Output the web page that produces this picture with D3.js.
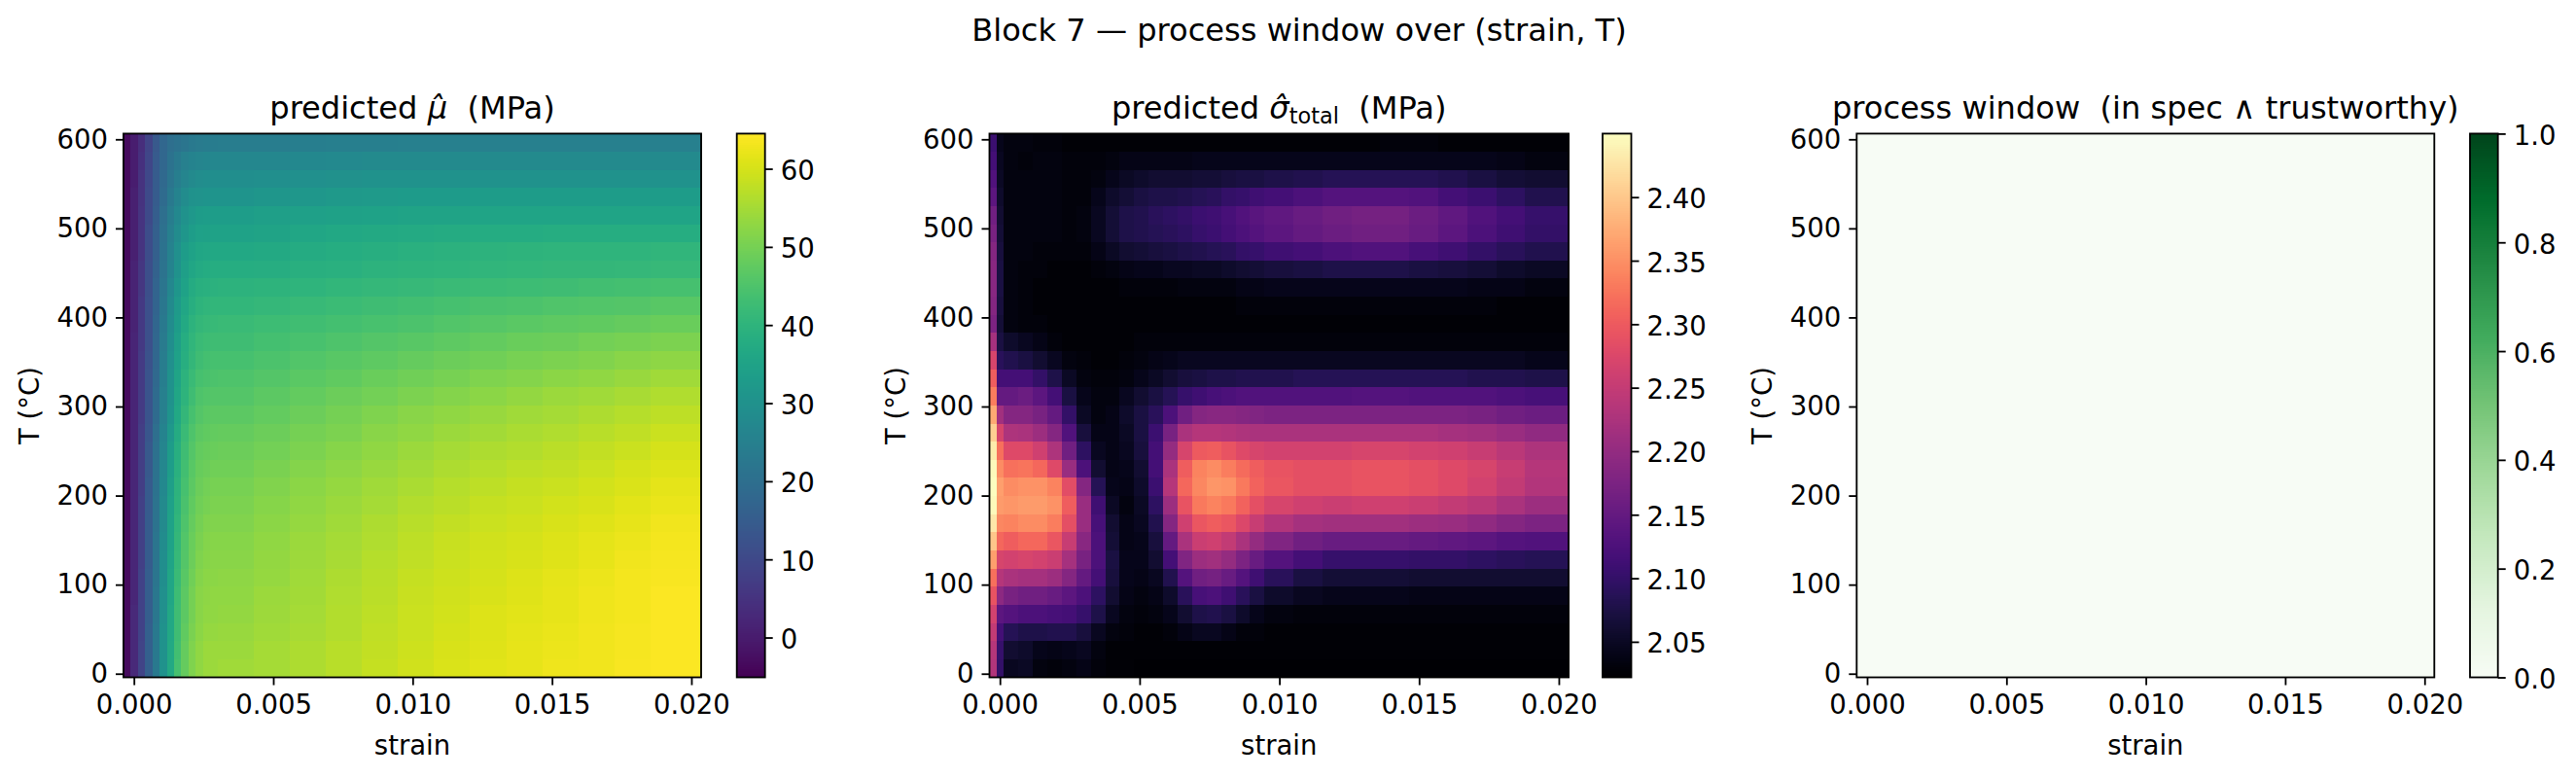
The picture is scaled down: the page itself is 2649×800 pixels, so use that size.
<!DOCTYPE html>
<html>
<head>
<meta charset="utf-8">
<script src="https://cdn.jsdelivr.net/npm/d3@7"></script>
<style>
  body { margin: 0; background: #fff; }
  text { font-family: "DejaVu Sans", sans-serif; fill: #000; }
</style>
</head>
<body>
<div id="chart"></div>
<script>
const width = 2649;
const height = 800;

const xTicks = [0, 0.005, 0.01, 0.015, 0.02];
const yTicks = [0, 100, 200, 300, 400, 500, 600];
const xLimits = [-0.000373, 0.02035];
const yLimits = [-4.1, 606.4];
const gridCols = 80;
const gridRows = 60;

// mean stress in MPa, top row (T=600) first
// 13 single columns on the left, then wider blocks where the field is flat
const muColSpans = [1,1,1,1,1,1,1,1,1,1,1,1,1, 5,5,5,5,5,5,5,5,5,5,5,5,7];
const muRowSpan = 2;
const muRows = [
  [-3,.5,4,9,14,18,20,21,22,23,23.5,23.8,23.9, 24,24.2,24.4,24.6,24.8,24.9,25,25,25,25,25,25,25],
  [-3,.5,4.5,9.5,14.5,18,21,23,25,26,26.7,26.9,27, 27,27.2,27.4,27.6,27.8,27.9,28,28,28,28,28,28,28],
  [-3,.5,5,10,15,18.5,22,24.5,26.5,28,28.7,28.9,29, 29,29.2,29.5,29.8,30,30.2,30.3,30.4,30.4,30.4,30.4,30.4,30.4],
  [-3,1,5,10.5,15,19,23,26,28.5,30,30.7,30.9,31, 31,31.4,31.8,32.2,32.5,32.8,32.9,33,33,33,33,33,33],
  [-3,1,5.5,10.5,15.5,20,24,27.5,30,32,33,33.3,33.4, 33.5,33.8,34.2,34.6,34.9,35.2,35.4,35.5,35.6,35.6,35.6,35.6,35.6],
  [-3,1,5.5,11,16,20.5,25,28.5,31.5,33.5,34.5,34.8,34.9, 35,35.4,36,36.5,37,37.3,37.5,37.7,37.8,37.9,38,38,38],
  [-3,1,5.5,11,16,21,25.5,29.5,33,35,36,36.4,36.5, 36.6,37,37.5,38,38.5,39,39.4,39.7,39.9,40.1,40.2,40.3,40.4],
  [-3,1.5,6,11.5,16.5,21.5,26,30.5,34,36,37.2,37.7,37.9, 38,38.3,38.7,39.1,39.5,39.8,40.1,40.4,40.7,40.9,41.1,41.3,41.5],
  [-3,1.5,6,11.5,17,22,27,31.5,35,37.5,38.7,39.2,39.4, 39.5,39.9,40.3,40.8,41.2,41.6,42,42.4,42.7,43,43.3,43.6,43.9],
  [-3,1.5,6.5,12,17,22.5,28,32.5,36,38.5,40,40.4,40.7, 40.8,41.3,41.8,42.3,42.8,43.4,43.9,44.4,44.8,45.2,45.6,46,46.4],
  [-3,1.5,6.5,12,17.5,23,28.5,33,37,39.5,41,41.6,41.9, 42,42.5,43.1,43.7,44.3,44.9,45.5,46.1,46.6,47.1,47.6,48.1,48.6],
  [-3,2,6.5,12,18,23.5,29,34,38,40.5,42,42.6,42.9, 43,43.6,44.3,45,45.8,46.5,47.2,47.9,48.5,49,49.6,50.2,50.8],
  [-3,2,7,12.5,18,24,29.5,34.5,38.5,41,43,43.6,43.9, 44,44.7,45.5,46.3,47.1,48,48.8,49.5,50.2,50.8,51.4,52.1,52.8],
  [-3,2,7,13,18.5,24.5,30,35.5,39.5,42,44,44.6,44.9, 45,45.9,46.7,47.6,48.5,49.4,50.3,51.1,51.7,52.4,53,53.8,54.6],
  [-3,2,7,13,19,25,30.5,36,40,43,45,45.6,45.9, 46,46.9,47.9,48.8,49.8,50.8,51.7,52.5,53.2,53.9,54.6,55.4,56.2],
  [-3,2,7,13,19,25,31,36.5,41,44,46,46.6,46.9, 47,47.9,48.9,49.9,51,52,52.9,53.8,54.5,55.2,55.9,56.8,57.7],
  [-3,2,7.5,13.5,20,26,32,37.5,42,45,47,47.6,47.9, 48,48.9,49.9,50.9,52,53,54,54.9,55.6,56.3,57,57.9,58.8],
  [-3,2,7.5,14,20.5,26.5,33,38.5,43,46,47.7,48.3,48.7, 48.8,49.7,50.7,51.8,52.9,54,55,55.9,56.6,57.3,58,59,59.9],
  [-3,2.5,7.5,14,21,27,33.5,39,43.5,46.5,48.3,49,49.4, 49.5,50.5,51.5,52.6,53.8,54.9,55.9,56.8,57.5,58.2,59,59.9,60.9],
  [-3,2.5,7.5,14.5,21,27.5,34,39.5,44,47,49,49.8,50.1, 50.2,51.2,52.3,53.4,54.6,55.7,56.7,57.6,58.3,59,59.8,60.6,61.6],
  [-3,2.5,8,14.5,21.5,28,34.5,40,44.5,47.5,49.5,50.3,50.7, 50.8,51.8,52.9,54,55.2,56.4,57.4,58.3,59,59.7,60.4,61.3,62.3],
  [-3,2.5,8,15,21.5,28,35,40.5,45,48,50,51,51.3, 51.4,52.4,53.5,54.6,55.8,57,58,58.9,59.5,60.3,61,62,62.9],
  [-3,2.5,8,15,22,28.5,35,41,45.5,48.5,50.5,51.5,51.8, 51.9,52.9,53.9,55.1,56.3,57.5,58.6,59.4,60,60.8,61.6,62.5,63.3],
  [-3,2.5,8,15,22,29,35.5,41.5,46,49,51,51.9,52.1, 52.2,53.2,54.2,55.4,56.7,57.9,59,59.8,60.4,61.2,62,62.9,63.6],
  [-3,2.5,8.5,15.5,22,29,36,42,46.5,49.5,51.5,52.3,52.5, 52.6,53.6,54.6,55.8,57.1,58.3,59.3,60.1,60.7,61.6,62.4,63.2,63.9],
  [-3,2.5,8.5,15.5,22.5,29.5,36,42.5,47,50,52,52.7,53, 53,53.9,54.9,56.1,57.3,58.6,59.6,60.4,61,61.8,62.6,63.3,64],
  [-3,3,8.5,15.5,22.5,29.5,36.5,43,47,50,52,53,53, 53.3,54.2,55.2,56.4,57.6,58.8,59.8,60.7,61.3,62,62.8,63.4,64],
  [-3,3,8.5,16,23,30,36.5,43,47.5,50.5,52.5,53.5,53.5, 53.7,54.6,55.5,56.6,57.8,59,60,60.9,61.6,62.3,63,63.5,64.1],
  [-3,3,9,16,23,30,37,43.5,48,51,53,54,54, 54,55,56,57,58,59.3,60.3,61.2,61.9,62.5,63,63.6,64.2],
  [-3,3,9,16,23,30,37,44,48,51,53,54,54, 54.5,55,56,57,58.3,59.5,60.5,61.4,62,62.6,63.1,63.7,64.2]
];
const muLimits = [-5.1, 64.5];
const muTicks = [0, 10, 20, 30, 40, 50, 60];

// total sigma, read as percent of the colorbar range, top row first
const sigmaColSpans = [1,1, 2,2,2,2,2,2,2,2,2,2,2,2,2,2,2,2,2,2, 4,4,4,4,4,4,4,4,4,6];
const sigmaRowSpan = 2;
const sigmaLevels = [
  [20,5, 3,3,2,2,1,1,1,1,1,1,1,1,1,1,1,1,1,1, 1,1,1,1,2,2,1,1,1,1],
  [22,6, 3,2,3,3,2,2,2,3,4,4,4,4,4,5,5,5,5,5, 5,5,5,5,5,5,5,5,4,3],
  [25,7, 3,3,3,3,2,2,3,5,7,8,9,9,9,10,10,11,12,12, 13,14,15,15,15,15,14,12,10,9],
  [28,8, 3,3,3,3,2,2,5,8,10,12,13,13,14,15,16,18,19,21, 22,24,26,26,26,25,22,20,17,14],
  [33,9, 3,3,3,3,2,3,6,10,13,14,16,17,18,20,21,23,25,27, 29,31,33,34,34,32,29,25,22,19],
  [35,10, 3,3,3,3,2,3,6,10,13,14,15,16,17,19,20,22,24,26, 28,30,32,33,33,31,28,24,21,18],
  [38,11, 3,3,2,2,2,2,4,7,9,10,11,12,13,14,15,16,18,19, 21,22,24,25,25,23,21,18,16,14],
  [39,12, 3,2,2,1,1,1,2,3,4,5,5,6,6,7,7,8,9,10, 11,12,13,13,13,12,11,10,8,7],
  [39,12, 3,2,1,1,1,1,1,1,2,2,2,2,3,3,3,3,4,4, 5,5,5,5,5,5,5,4,4,3],
  [38,11, 3,2,1,1,1,1,1,1,1,1,1,1,1,1,1,1,2,2, 2,2,2,2,2,2,2,2,1,1],
  [36,10, 3,2,2,1,1,1,1,1,1,1,1,1,1,1,1,1,1,1, 1,1,1,1,1,1,1,1,1,1],
  [46,12, 8,6,4,2,1,1,1,1,1,2,2,2,2,2,2,2,2,2, 2,2,2,2,2,2,2,2,2,2],
  [58,16, 14,12,9,6,3,2,1,1,2,3,4,5,6,6,6,6,6,6, 6,6,6,6,6,6,6,6,6,5],
  [66,22, 22,22,18,13,7,3,2,2,3,5,7,9,11,12,13,13,14,14, 14,15,15,15,15,15,15,14,14,13],
  [73,30, 30,32,28,22,12,5,3,3,6,9,12,15,19,21,23,24,25,25, 25,25,25,26,26,25,25,25,24,23],
  [82,45, 38,38,35,30,18,7,3,4,8,12,16,24,33,38,39,39,38,37, 36,36,36,36,36,36,36,35,33,32],
  [90,58, 48,47,44,38,25,11,4,4,7,12,20,35,47,50,50,49,48,47, 47,47,47,47,47,47,46,45,43,41],
  [96,70, 60,60,56,48,33,17,6,4,6,11,22,42,58,65,66,63,60,58, 57,57,57,58,58,57,56,54,51,48],
  [99,76, 70,71,68,60,43,24,9,4,5,9,22,47,66,74,76,73,69,66, 63,62,62,63,63,62,60,58,54,50],
  [100,80, 76,77,77,74,61,38,15,5,4,8,20,50,68,75,78,77,72,67, 64,62,62,63,63,62,60,57,53,49],
  [99,79, 78,79,79,77,66,43,21,7,3,7,17,44,63,72,74,72,67,62, 58,56,55,56,56,55,53,51,47,44],
  [95,75, 74,76,76,73,62,43,23,9,4,6,14,38,56,64,66,64,59,54, 49,46,45,45,45,44,43,41,38,36],
  [88,68, 66,68,68,64,54,39,24,10,4,5,11,30,47,55,56,53,47,42, 37,33,31,31,31,30,29,28,26,25],
  [80,58, 57,58,57,55,46,35,24,12,5,5,9,22,37,44,45,42,36,31, 26,22,19,19,19,18,18,17,16,15],
  [70,50, 47,46,46,44,38,30,22,11,5,4,6,14,26,33,34,31,26,21, 16,12,10,10,10,9,9,9,9,9],
  [63,40, 35,33,33,31,28,24,17,9,4,3,4,8,16,23,24,21,16,12, 8,6,5,5,5,4,4,4,4,4],
  [57,28, 26,24,24,23,22,19,13,6,3,2,3,5,9,13,14,12,8,5, 3,2,2,2,2,2,2,2,2,2],
  [53,22, 15,13,13,14,14,11,6,3,2,1,1,2,4,6,6,4,2,2, 1,1,1,1,1,1,1,1,1,1],
  [50,19, 9,8,5,4,5,6,3,1,1,1,1,1,1,1,1,1,1,1, 1,1,1,1,1,1,1,1,1,1],
  [49,18, 6,7,3,2,3,4,2,1,1,0,0,0,0,0,0,0,0,0, 0,0,0,0,0,0,0,0,0,0]
];
const sigmaLimits = [2.022, 2.45];
const sigmaTicks = [2.05, 2.1, 2.15, 2.2, 2.25, 2.3, 2.35, 2.4];
const sigmaRows = sigmaLevels.map(r => r.map(l => sigmaLimits[0] + l / 100 * (sigmaLimits[1] - sigmaLimits[0])));

// nothing is inside the window: one value over the whole grid
const windowColSpans = [80];
const windowRowSpan = 60;
const windowRows = [[0]];
const windowLimits = [0, 1];
const windowTicks = [0, 0.2, 0.4, 0.6, 0.8, 1];
const greensHex = ["#f7fcf5","#e5f5e0","#c7e9c0","#a1d99b","#74c476","#41ab5d","#238b45","#006d2c","#00441b"];

const greens = d3.scaleLinear().domain(d3.range(9).map(i => i / 8)).range(greensHex);

const plotTop = 137.4;
const plotBottom = 696.5;
const tickFont = 27.5;
const titleFont = 32.1;
const lineW = 1.83;

const panels = [
  { left: 127, right: 721, barLeft: 757.7, barRight: 786.7, rows: muRows, spans: muColSpans, rowSpan: muRowSpan,
    limits: muLimits, ticks: muTicks, fmt: d3.format("d"), cmap: d3.interpolateViridis,
    title: [["predicted "], ["\u03bc\u0302", "i"], ["  (MPa)"]] },
  { left: 1017.5, right: 1613, barLeft: 1648, barRight: 1677.5, rows: sigmaRows, spans: sigmaColSpans, rowSpan: sigmaRowSpan,
    limits: sigmaLimits, ticks: sigmaTicks, fmt: d3.format(".2f"), cmap: d3.interpolateMagma,
    title: [["predicted "], ["\u03c3\u0302", "i"], ["total", "s"], ["  (MPa)"]] },
  { left: 1909.3, right: 2503.3, barLeft: 2540, barRight: 2568.7, rows: windowRows, spans: windowColSpans, rowSpan: windowRowSpan,
    limits: windowLimits, ticks: windowTicks, fmt: d3.format(".1f"), cmap: t => greens(t),
    title: [["process window  (in spec \u2227 trustworthy)"]] }
];

const svg = d3.select("#chart").append("svg")
    .attr("width", width)
    .attr("height", height)
    .style("display", "block");

svg.append("text")
    .attr("x", 1336)
    .attr("y", 42)
    .attr("text-anchor", "middle")
    .style("font-size", titleFont + "px")
    .text("Block 7 \u2014 process window over (strain, T)");

function styleAxis(g) {
    g.style("font-size", tickFont + "px").style("font-family", '"DejaVu Sans", sans-serif');
    g.select(".domain").remove();
    g.selectAll("line").attr("stroke", "#000").attr("stroke-width", lineW);
}

panels.forEach(p => {
    const x = d3.scaleLinear().domain(xLimits).range([p.left, p.right]);
    const y = d3.scaleLinear().domain(yLimits).range([plotBottom, plotTop]);
    const color = d3.scaleSequential(p.cmap).domain(p.limits);

    const colW = (xLimits[1] - xLimits[0]) / gridCols;
    const rowH = (yLimits[1] - yLimits[0]) / gridRows;

    // cells, each one spans some grid columns and rows
    const cells = [];
    p.rows.forEach((row, j) => {
        const r0 = gridRows - (j + 1) * p.rowSpan;
        let c0 = 0;
        row.forEach((v, i) => {
            cells.push({ c0, c1: c0 + p.spans[i], r0, r1: r0 + p.rowSpan, v });
            c0 += p.spans[i];
        });
    });

    svg.append("g")
        .attr("shape-rendering", "crispEdges")
        .selectAll("rect")
        .data(cells)
        .join("rect")
        .attr("x", d => x(xLimits[0] + d.c0 * colW))
        .attr("y", d => y(yLimits[0] + d.r1 * rowH))
        .attr("width", d => x(xLimits[0] + d.c1 * colW) - x(xLimits[0] + d.c0 * colW) + 0.5)
        .attr("height", d => y(yLimits[0] + d.r0 * rowH) - y(yLimits[0] + d.r1 * rowH) + 0.5)
        .attr("fill", d => color(d.v));

    svg.append("rect")
        .attr("x", p.left).attr("y", plotTop)
        .attr("width", p.right - p.left).attr("height", plotBottom - plotTop)
        .attr("fill", "none").attr("stroke", "#000").attr("stroke-width", lineW);

    svg.append("g")
        .attr("transform", `translate(0,${plotBottom})`)
        .call(d3.axisBottom(x).tickValues(xTicks).tickFormat(d3.format(".3f")).tickSize(8).tickPadding(10))
        .call(styleAxis);

    svg.append("g")
        .attr("transform", `translate(${p.left},0)`)
        .call(d3.axisLeft(y).tickValues(yTicks).tickSize(8).tickPadding(8))
        .call(styleAxis);

    svg.append("text")
        .attr("x", (p.left + p.right) / 2)
        .attr("y", 776)
        .attr("text-anchor", "middle")
        .style("font-size", tickFont + "px")
        .text("strain");

    svg.append("text")
        .attr("transform", `translate(${p.left - 87},${(plotTop + plotBottom) / 2}) rotate(-90)`)
        .attr("text-anchor", "middle")
        .style("font-size", tickFont + "px")
        .text("T (\u00b0C)");

    const title = svg.append("text")
        .attr("x", (p.left + p.right) / 2)
        .attr("y", 121.5)
        .attr("text-anchor", "middle")
        .style("font-size", titleFont + "px")
        .style("white-space", "pre");
    p.title.forEach(([s, kind], i) => {
        const t = title.append("tspan").text(s);
        if (kind === "i") t.style("font-style", "italic");
        if (kind === "s") t.style("font-size", "22.4px").attr("dy", 5);
        if (i > 0 && p.title[i - 1][1] === "s") t.attr("dy", -5);
    });

    // colorbar
    const barY = d3.scaleLinear().domain(p.limits).range([plotBottom, plotTop]);
    const levels = d3.range(256).map(i => p.limits[0] + (i + 0.5) / 256 * (p.limits[1] - p.limits[0]));
    const barH = (plotBottom - plotTop) / 256;
    svg.append("g")
        .attr("shape-rendering", "crispEdges")
        .selectAll("rect")
        .data(levels)
        .join("rect")
        .attr("x", p.barLeft)
        .attr("y", d => barY(d) - barH / 2)
        .attr("width", p.barRight - p.barLeft)
        .attr("height", barH + 0.5)
        .attr("fill", d => color(d));

    svg.append("rect")
        .attr("x", p.barLeft).attr("y", plotTop)
        .attr("width", p.barRight - p.barLeft).attr("height", plotBottom - plotTop)
        .attr("fill", "none").attr("stroke", "#000").attr("stroke-width", lineW);

    svg.append("g")
        .attr("transform", `translate(${p.barRight},0)`)
        .call(d3.axisRight(barY).tickValues(p.ticks).tickFormat(p.fmt).tickSize(8).tickPadding(8))
        .call(styleAxis)
        .selectAll("text").attr("dy", "0.4em");
});
</script>
</body>
</html>
